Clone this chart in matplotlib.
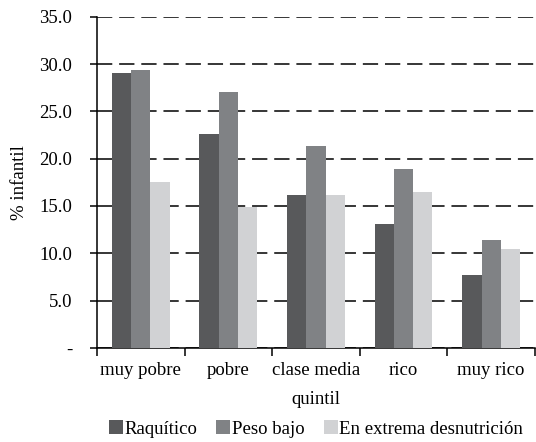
import matplotlib
matplotlib.use('Agg')
import matplotlib.pyplot as plt
import numpy as np

plt.rcParams['font.family'] = ['Liberation Serif', 'DejaVu Serif']

quintiles = ['muy pobre', 'pobre', 'clase media', 'rico', 'muy rico']
series = ['Raquítico', 'Peso bajo', 'En extrema desnutrición']
raquitico = [29.1, 22.6, 16.2, 13.1, 7.7]
peso_bajo = [29.4, 27.0, 21.3, 18.9, 11.4]
extrema = [17.5, 14.9, 16.2, 16.5, 10.4]
colors = ['#58595b', '#808285', '#d1d2d4']
yticks = [0, 5, 10, 15, 20, 25, 30, 35]
ytick_labels = ['-', '5.0', '10.0', '15.0', '20.0', '25.0', '30.0', '35.0']

FS = 13.5

fig = plt.figure(figsize=(5.36, 4.42), dpi=100)
ax = fig.add_axes([0.181, 0.213, 0.817, 0.749])

x = np.arange(len(quintiles))
w = 0.22
for i, (vals, name) in enumerate(zip([raquitico, peso_bajo, extrema], series)):
    ax.bar(x + (i - 1) * w, vals, width=w, color=colors[i], label=name, zorder=3)

ax.set_ylim(0, 35)
ax.set_xlim(-0.5, 4.5)
ax.set_yticks(yticks)
ax.set_yticklabels(ytick_labels, fontsize=FS)
ax.yaxis.grid(True, color='black', linestyle=(0, (10, 4.5)), linewidth=1.1, zorder=0)
ax.tick_params(axis='y', length=5, width=1.1, direction='out', pad=13)

ax.set_xticks(x)
ax.set_xticklabels(quintiles, fontsize=FS)
ax.tick_params(axis='x', which='major', length=0, pad=10)
ax.set_xticks(np.arange(-0.5, 4.6, 1), minor=True)
ax.tick_params(axis='x', which='minor', length=6, width=1.1, direction='out')

for s in ['top', 'right']:
    ax.spines[s].set_visible(False)
for s in ['left', 'bottom']:
    ax.spines[s].set_linewidth(1.1)

ax.set_ylabel('% infantil', fontsize=FS, labelpad=8)
ax.set_xlabel('quintil', fontsize=FS, labelpad=9)

ax.legend(loc='center', bbox_to_anchor=(0.5, -0.245), ncol=3, frameon=False,
          fontsize=FS, handlelength=0.75, handleheight=0.75, handletextpad=0.1,
          columnspacing=1.0, borderaxespad=0)

fig.savefig('out.png', dpi=100)
